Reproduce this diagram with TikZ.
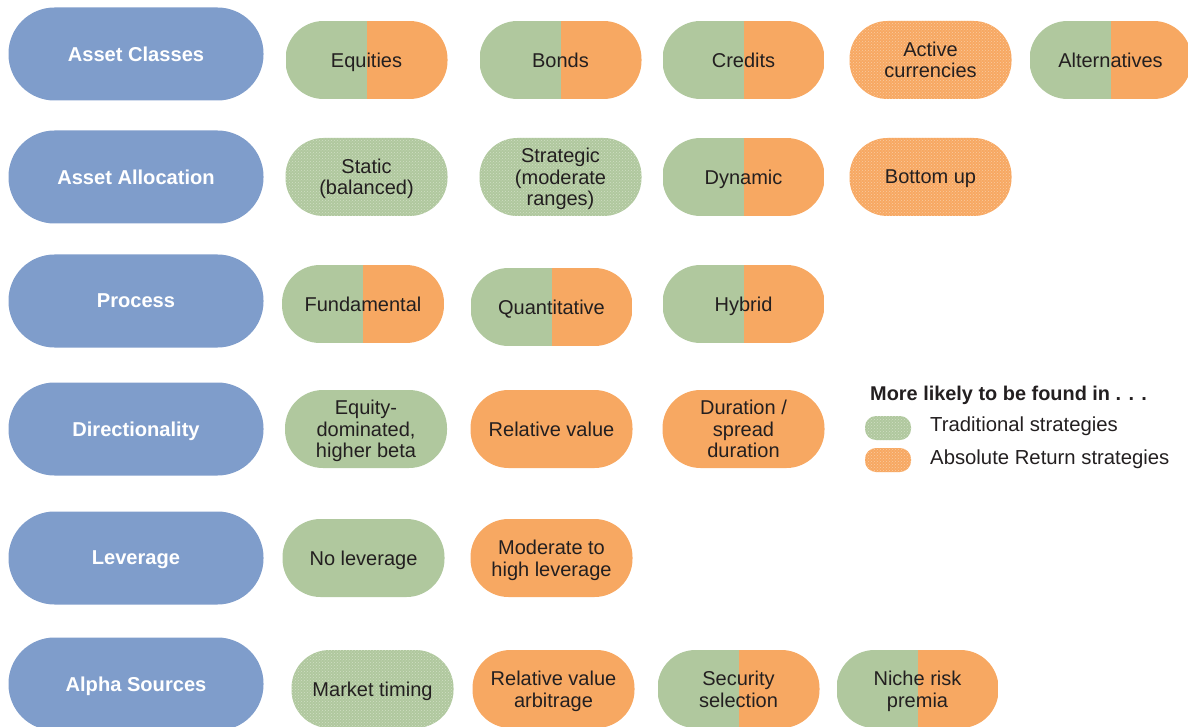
\documentclass[tikz,border=0pt]{standalone}
\usepackage{fontspec}
\setmainfont{Liberation Sans}
\usetikzlibrary{patterns}
\definecolor{cblue}{RGB}{127,157,203}
\definecolor{cgreen}{RGB}{176,200,158}
\definecolor{corange}{RGB}{247,168,98}
\definecolor{ctext}{RGB}{35,31,32}
\tikzset{
 cat/.style={fill=cblue, rounded corners=46pt, minimum width=255pt, minimum height=93pt, inner sep=0pt, text depth=0pt, text=white, font=\fontsize{20.1}{22}\selectfont\bfseries},
 pillbase/.style={rounded corners=38pt, minimum width=162pt, minimum height=78pt, inner sep=0pt, text depth=0pt, align=center, text=ctext, font=\fontsize{20}{21.5}\selectfont},
 gpill/.style={pillbase, fill=cgreen},
 opill/.style={pillbase, fill=corange},
 mpill/.style={pillbase, path picture={\fill[cgreen, sharp corners] (path picture bounding box.south west) rectangle (path picture bounding box.north); \fill[corange, sharp corners] (path picture bounding box.north) rectangle (path picture bounding box.south east);}},
 gtex/.style={gpill, postaction={pattern=crosshatch dots, pattern color=cgreen!60!white}},
 otex/.style={opill, postaction={pattern=crosshatch dots, pattern color=corange!60!white}},
 swatch/.style={minimum width=46pt, minimum height=24pt, rounded corners=11pt, inner sep=0pt},
 legtext/.style={anchor=west, inner sep=0pt, text depth=0pt, text=ctext, font=\fontsize{20.3}{22}\selectfont},
}
\begin{document}
\begin{tikzpicture}[x=1pt,y=-1pt]
\useasboundingbox (0,0) rectangle (1188,727);
% categories
\node[cat] (c1) at (136,54) {Asset Classes};
\node[cat] (c2) at (136,177) {Asset Allocation};
\node[cat] (c3) at (136,301) {Process};
\node[cat] (c4) at (136,429) {Directionality};
\node[cat] (c5) at (136,558) {Leverage};
\node[cat] (c6) at (136,684) {Alpha Sources};
% row 1
\node[mpill] (r1a) at (366.5,60) {Equities};
\node[mpill] (r1b) at (560.5,60) {Bonds};
\node[mpill] (r1c) at (743.5,60) {Credits};
\node[otex] (r1d) at (930.5,60) {Active\\currencies};
\node[mpill] (r1e) at (1110.5,60) {Alternatives};
% row 2
\node[gtex] (r2a) at (366.5,177) {Static\\(balanced)};
\node[gtex] (r2b) at (560.5,177) {Strategic\\(moderate\\ranges)};
\node[mpill] (r2c) at (743.5,177) {Dynamic};
\node[otex] (r2d) at (930.5,177) {Bottom up};
% row 3
\node[mpill] (r3a) at (363,304) {Fundamental};
\node[mpill] (r3b) at (551.5,307) {Quantitative};
\node[mpill] (r3c) at (743.5,304) {Hybrid};
% row 4
\node[gpill] (r4a) at (366,429) {Equity-\\dominated,\\higher beta};
\node[opill] (r4b) at (551.5,429) {Relative value};
\node[opill] (r4c) at (743.5,429) {Duration /\\spread\\duration};
% row 5
\node[gpill] (r5a) at (363.5,558) {No leverage};
\node[opill] (r5b) at (551.5,558) {Moderate to\\high leverage};
% row 6
\node[gtex] (r6a) at (372.5,689) {Market timing};
\node[opill] (r6b) at (553.5,689) {Relative value\\arbitrage};
\node[mpill] (r6c) at (738.5,689) {Security\\selection};
\node[mpill] (r6d) at (917.5,689) {Niche risk\\premia};
% legend
\node[legtext, font=\fontsize{19.9}{22}\selectfont\bfseries] (lt) at (870,393) {More likely to be found in . . .};
\node[swatch, fill=cgreen, postaction={pattern=crosshatch dots, pattern color=cgreen!60!white}] (lg) at (888,428) {};
\node[swatch, fill=corange, postaction={pattern=crosshatch dots, pattern color=corange!60!white}] (lo) at (888,460) {};
\node[legtext] (lgt) at (930,424) {Traditional strategies};
\node[legtext] (lot) at (930,457) {Absolute Return strategies};
\end{tikzpicture}
\end{document}
